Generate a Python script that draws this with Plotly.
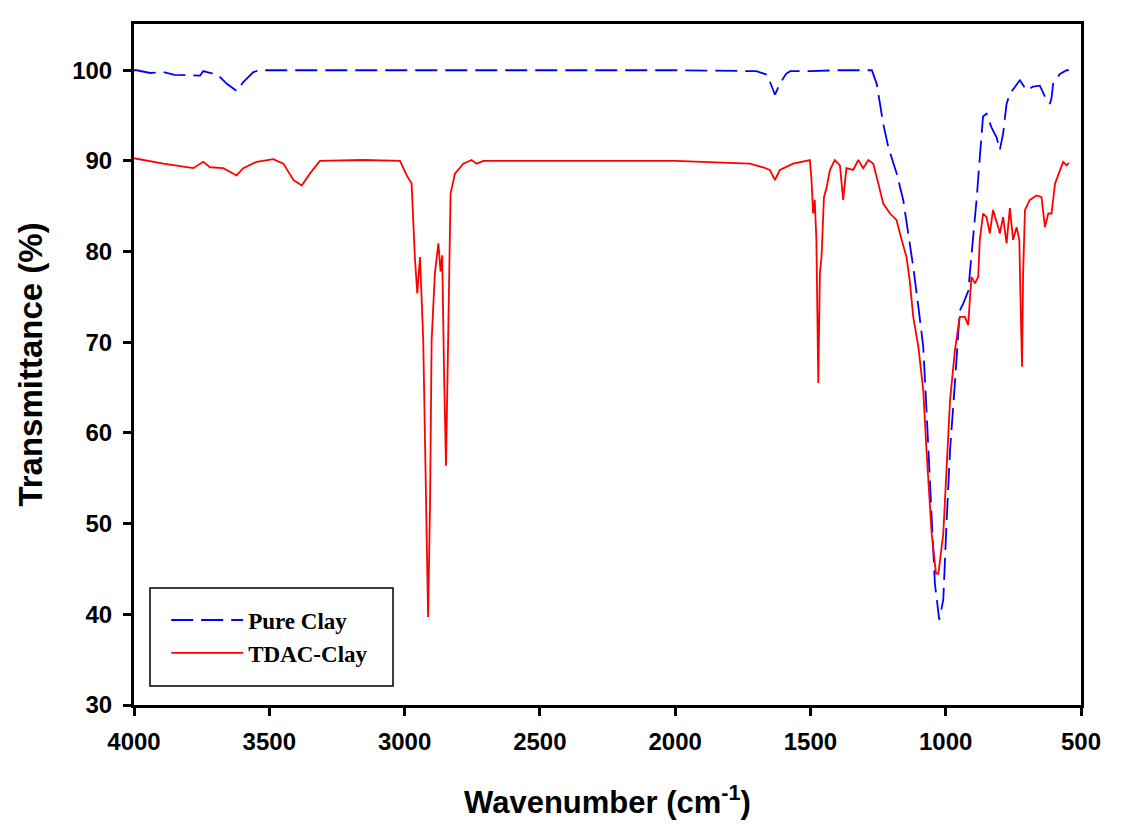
import plotly.graph_objects as go

# Pure Clay (wavenumber, transmittance)
pure_wn = [4000, 3990, 3940, 3892, 3850, 3793, 3756, 3744, 3720, 3694, 3657, 3620, 3596, 3559, 3534,
           3400, 3000, 2500, 2000, 1700, 1660, 1631, 1613, 1590, 1575, 1500, 1400, 1300, 1273,
           1255, 1231, 1212, 1181, 1157, 1138, 1120, 1101, 1083, 1071, 1058, 1040, 1024, 1009, 997,
           984, 966, 948, 935, 916, 911, 899, 886, 874, 862, 849, 831, 812, 800, 788, 775, 763,
           738, 726, 701, 677, 652, 627, 615, 609, 603, 578, 553, 545]
pure_t = [100.0, 100.0, 99.7, 99.8, 99.5, 99.4, 99.4, 99.9, 99.7, 99.6, 98.5, 97.7, 98.7, 99.8, 100.0,
          100.0, 100.0, 100.0, 100.0, 99.9, 99.5, 97.3, 98.5, 99.6, 99.9, 99.9, 100.0, 100.0, 100.0,
          98.5, 94.1, 91.5, 88.6, 85.7, 82.0, 78.3, 73.9, 69.5, 62.5, 54.5, 43.4, 39.4, 41.6, 50.1,
          58.1, 65.5, 73.5, 74.3, 75.7, 77.6, 81.3, 85.7, 90.4, 94.9, 95.2, 93.7, 92.6, 91.2, 93.0, 96.3, 97.4,
          98.5, 98.9, 97.8, 98.2, 98.3, 96.7, 96.3, 96.9, 98.5, 99.6, 100.0, 100.0]

# TDAC-Clay
tdac_wn = [4000, 3892, 3781, 3744, 3719, 3670, 3621, 3596, 3547, 3485, 3448, 3411, 3380, 3350, 3313,
           3153, 3017, 2992, 2974, 2962, 2953, 2943, 2931, 2919, 2913, 2906, 2900, 2888, 2875, 2867,
           2861, 2854, 2847, 2841, 2836, 2830, 2814, 2783, 2752, 2734, 2709, 2500, 2000, 1724, 1675,
           1650, 1631, 1613, 1564, 1502, 1496, 1490, 1484, 1478, 1471, 1465, 1459, 1450, 1440, 1428,
           1410, 1391, 1379, 1367, 1342, 1323, 1305, 1286, 1268, 1249, 1231, 1206, 1182, 1163, 1145,
           1133, 1120, 1101, 1083, 1071, 1052, 1036, 1027, 1009, 997, 984, 966, 948, 929, 917, 905,
           892, 880, 874, 862, 849, 837, 825, 806, 800, 788, 775, 763, 751, 738, 728, 723, 718, 714,
           707, 689, 664, 646, 633, 621, 609, 596, 578, 566, 553, 545]
tdac_t = [90.3, 89.7, 89.2, 89.9, 89.3, 89.2, 88.4, 89.2, 89.9, 90.2, 89.7, 87.9, 87.3, 88.6, 90.0,
          90.1, 90.0, 88.4, 87.5, 79.4, 75.4, 79.4, 70.2, 51.9, 39.7, 51.9, 70.2, 77.6, 80.9, 77.8,
          79.6, 66.6, 56.4, 66.6, 77.6, 86.4, 88.6, 89.7, 90.1, 89.7, 90.0, 90.0, 90.0, 89.7, 89.3,
          89.0, 87.9, 89.0, 89.7, 90.1, 87.9, 84.2, 85.7, 81.3, 65.5, 77.6, 79.4, 86.0, 87.1, 89.0,
          90.1, 89.5, 85.7, 89.2, 89.0, 90.1, 89.2, 90.1, 89.7, 87.5, 85.3, 84.2, 83.5, 81.3, 79.4,
          76.8, 72.8, 69.5, 64.7, 58.1, 48.9, 44.5, 44.5, 48.9, 56.3, 63.6, 69.1, 72.8, 72.8, 71.9, 77.2,
          76.5, 77.2, 81.3, 84.2, 83.8, 82.0, 84.6, 82.7, 82.0, 83.8, 80.9, 84.8, 81.3, 82.7, 81.3, 73.9, 67.3, 77.6,
          84.6, 85.7, 86.2, 86.0, 82.7, 84.2, 84.2, 87.5, 89.0, 89.9, 89.5, 89.8]

x_ticks = [4000, 3500, 3000, 2500, 2000, 1500, 1000, 500]
y_ticks = [30, 40, 50, 60, 70, 80, 90, 100]

fig = go.Figure()
fig.add_trace(go.Scatter(x=pure_wn, y=pure_t, mode="lines", name="Pure Clay",
                         line=dict(color="#0000ff", width=1.8, dash="22px,8px")))
fig.add_trace(go.Scatter(x=tdac_wn, y=tdac_t, mode="lines", name="TDAC-Clay",
                         line=dict(color="#ff0000", width=1.8)))

# legend frame
fig.add_shape(type="rect", xref="paper", yref="paper",
              x0=0.0169, x1=0.2735, y0=0.0279, y1=0.1718,
              line=dict(color="black", width=1.5), fillcolor="white", layer="above")

sans = "Arial, Liberation Sans, sans-serif"
axis_font = dict(family=sans, size=24, color="black", weight="bold")
fig.update_layout(
    width=1128, height=823,
    margin=dict(l=126, r=55, t=16, b=126),
    paper_bgcolor="white", plot_bgcolor="white",
    showlegend=True,
    legend=dict(x=0.034, y=0.1005, xanchor="left", yanchor="middle",
                borderwidth=0, bgcolor="rgba(0,0,0,0)",
                itemwidth=72,
                font=dict(family="Times New Roman, Liberation Serif, serif", size=23,
                          color="black", weight="bold"),
                tracegroupgap=0),
    xaxis=dict(range=[4000, 500], tickvals=x_ticks, ticktext=[str(v) for v in x_ticks],
               showgrid=False, zeroline=False, showline=True, linewidth=3, linecolor="black",
               mirror=True, ticks="outside", ticklen=8, tickwidth=2.5, tickcolor="black",
               ticklabelstandoff=5,
               tickfont=axis_font,
               title=dict(text="Wavenumber (cm<sup>-1</sup>)", standoff=38,
                          font=dict(family=sans, size=31, color="black", weight="bold"))),
    yaxis=dict(range=[30, 105.1], tickvals=y_ticks,
               showgrid=False, zeroline=False, showline=True, linewidth=3, linecolor="black",
               mirror=True, ticks="outside", ticklen=8, tickwidth=2.5, tickcolor="black",
               ticklabelstandoff=6,
               tickfont=axis_font,
               title=dict(text="Transmittance (%)", standoff=20,
                          font=dict(family=sans, size=33, color="black", weight="bold"))),
)

fig.write_html("out.html")
